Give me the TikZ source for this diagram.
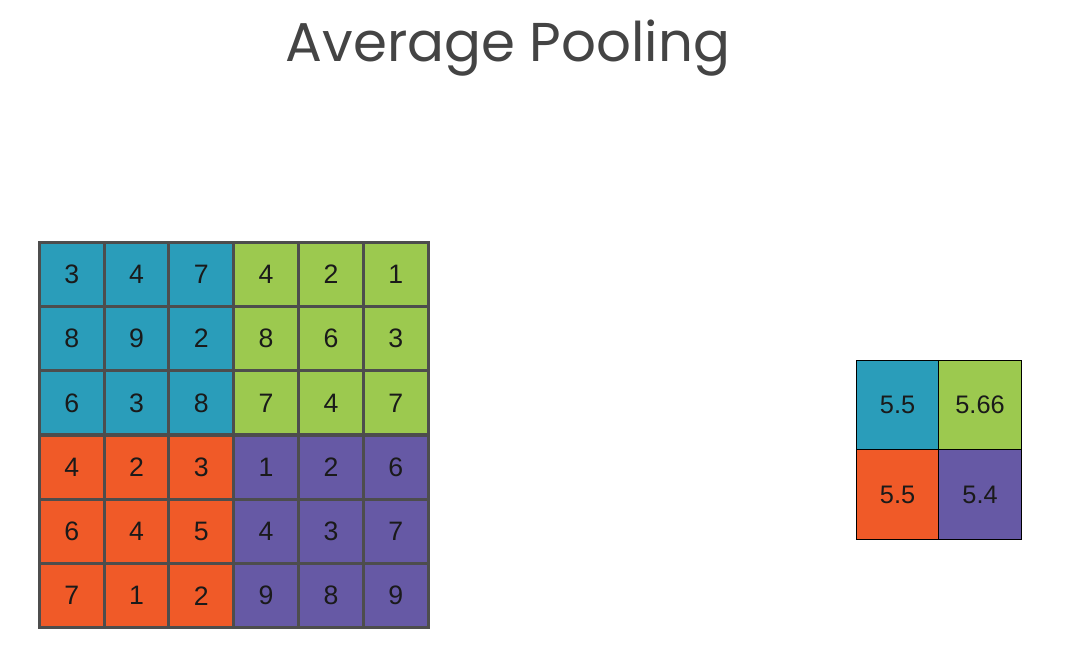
\documentclass[tikz,border=0pt]{standalone}
\usepackage{fontspec}
\setmainfont{Liberation Sans}
\newfontfamily\titlefont{Poppins}
\definecolor{cblue}{HTML}{2A9DBA}
\definecolor{cgreen}{HTML}{9CC94F}
\definecolor{corange}{HTML}{F05A28}
\definecolor{cpurple}{HTML}{6659A5}
\definecolor{gridgray}{HTML}{4D4D4D}
\definecolor{titlegray}{HTML}{444444}
\definecolor{numblack}{HTML}{1A1A1A}
\tikzset{
  cell/.style={draw=gridgray, line width=2.3pt, minimum width=48.6pt, minimum height=48.15pt, inner sep=0pt, anchor=north west, text=numblack, font=\fontsize{20}{20}\selectfont},
  outcell/.style={draw=black, line width=0.8pt, inner sep=0pt, anchor=north west, text=numblack, font=\fontsize{19}{19}\selectfont}
}
\begin{document}
\begin{tikzpicture}[x=0.75pt,y=-0.75pt]
\useasboundingbox (0,0) rectangle (1070,648);
\node[titlegray, font=\titlefont\fontsize{41}{41}\selectfont, anchor=base] (title) at (508,62) {Average Pooling};
% input grid
\foreach \r/\vals in {0/{3,4,7,4,2,1},1/{8,9,2,8,6,3},2/{6,3,8,7,4,7},3/{4,2,3,1,2,6},4/{6,4,5,4,3,7},5/{7,1,2,9,8,9}}{
  \foreach \v [count=\c from 0] in \vals {
    \pgfmathtruncatemacro{\q}{(\r>2)*2+(\c>2)}
    \ifcase\q \def\cc{cblue}\or \def\cc{cgreen}\or \def\cc{corange}\else \def\cc{cpurple}\fi
    \node[cell, fill=\cc] (in-\r-\c) at ({37.8+64.8*\c},{240.6+64.3*\r}) {\v};
  }
}
% output grid
\node[outcell, fill=cblue, minimum width=61.5pt, minimum height=66.75pt] (o-0-0) at (856,360) {5.5};
\node[outcell, fill=cgreen, minimum width=62.25pt, minimum height=66.75pt] (o-0-1) at (938,360) {5.66};
\node[outcell, fill=corange, minimum width=61.5pt, minimum height=67.5pt] (o-1-0) at (856,449) {5.5};
\node[outcell, fill=cpurple, minimum width=62.25pt, minimum height=67.5pt] (o-1-1) at (938,449) {5.4};
\end{tikzpicture}
\end{document}
